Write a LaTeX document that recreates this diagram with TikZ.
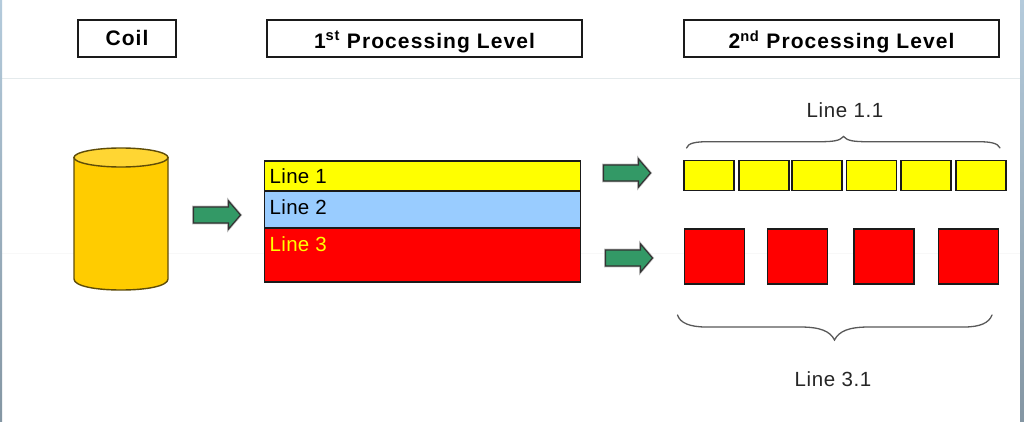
\documentclass[tikz,border=0pt]{standalone}
\usepackage{fontspec}
\setmainfont{Liberation Sans}
\definecolor{arrowgreen}{HTML}{339966}
\definecolor{coilgold}{HTML}{FFCC00}
\definecolor{coiltop}{HTML}{FFD633}
\definecolor{lineblue}{HTML}{99CCFF}
\definecolor{lineyellow}{HTML}{FFFF00}
\definecolor{linered}{HTML}{FF0000}
\definecolor{rulegrey}{HTML}{E4EAEC}
\definecolor{faintgrey}{HTML}{F8F8F8}
\definecolor{edgetop}{HTML}{B4CBDC}
\definecolor{edgebot}{HTML}{8496A3}
\definecolor{strokedark}{HTML}{1A1A1A}
\definecolor{coilline}{HTML}{5E4C08}
\tikzset{
  x=1pt,y=-1pt,
  outlined/.style={draw=strokedark,line width=1.6pt,inner sep=0pt,outer sep=0pt},
  headbox/.style={outlined,fill=white,font=\fontsize{21}{24}\selectfont\bfseries\addfontfeature{LetterSpace=5.2}},
  blockyellow/.style={outlined,fill=lineyellow,minimum height=30pt},
  blockred/.style={outlined,fill=linered,minimum width=60pt,minimum height=54.5pt},
  linetext/.style={anchor=west,inner sep=0pt,font=\fontsize{20.5}{24}\selectfont\addfontfeature{LetterSpace=1.5}},
  bracetext/.style={inner sep=0pt,text=black!85,font=\fontsize{20.5}{24}\selectfont\addfontfeature{LetterSpace=3}},
  fatarrow/.style={draw=black!80,line width=1.2pt,fill=arrowgreen,line join=miter,
    preaction={draw=black!25,line width=2.6pt}},
  bracecurve/.style={draw=black!65,line width=1.3pt,line cap=round},
  coilstroke/.style={draw=coilline,line width=1.4pt}
}
\newcommand{\greenarrow}[2]{% left x, centre y
  \path[fatarrow] (#1,#2-8) -- (#1+35,#2-8) -- (#1+35,#2-14) -- (#1+47,#2) -- (#1+35,#2+14) -- (#1+35,#2+8) -- (#1,#2+8) -- cycle;}
\begin{document}
\begin{tikzpicture}
\useasboundingbox (0,0) rectangle (1024,422);
\fill[white] (0,0) rectangle (1024,422);
\fill[rulegrey] (0,78) rectangle (1024,79);
\fill[faintgrey] (0,253) rectangle (1024,254);
\shade[top color=edgetop,bottom color=edgebot] (0,0) rectangle (2,422);
\shade[top color=edgetop,bottom color=edgebot] (1020,0) rectangle (1024,422);

% headers
\node[headbox,minimum width=97.5pt,minimum height=36.5pt] (coilhead) at (127,38.5) {\raisebox{1pt}{Coil}};
\node[headbox,minimum width=314.5pt,minimum height=36.5pt] (firsthead) at (424.5,38.5) {\raisebox{-1pt}[\height][0pt]{1\textsuperscript{st} Processing Level}};
\node[headbox,minimum width=314.5pt,minimum height=36.5pt] (secondhead) at (841.5,38.5) {\raisebox{-1pt}[\height][0pt]{2\textsuperscript{nd} Processing Level}};

% coil
\path[coilstroke,fill=coilgold] (74,157.5) -- (74,279) .. controls (74,286) and (95,290) .. (121,290) .. controls (147,290) and (168,286) .. (168,279) -- (168,157.5) -- cycle;
\path[coilstroke,fill=coiltop] (121,157.5) ellipse [x radius=47,y radius=9.5];

\greenarrow{193.5}{215}
\greenarrow{603.5}{173}
\greenarrow{605.5}{258}

% line stack
\node[outlined,fill=lineyellow,minimum width=316pt,minimum height=30.5pt] (lineone) at (422.5,176) {};
\node[outlined,fill=lineblue,minimum width=316pt,minimum height=37pt] (linetwo) at (422.5,209.5) {};
\node[outlined,fill=linered,minimum width=316pt,minimum height=54pt] (linethree) at (422.5,255) {};
\node[linetext] (lineonetext) at (269.5,176.5) {Line 1};
\node[linetext] (linetwotext) at (269.5,207) {Line 2};
\node[linetext,text=lineyellow] (linethreetext) at (269.5,244) {Line 3};

% yellow blocks
\node[blockyellow,minimum width=50pt] (ya) at (709.2,175.5) {};
\node[blockyellow,minimum width=50pt] (yb) at (763.7,175.5) {};
\node[blockyellow,minimum width=50pt] (yc) at (817,175.5) {};
\node[blockyellow,minimum width=50pt] (yd) at (871.5,175.5) {};
\node[blockyellow,minimum width=50pt] (ye) at (926,175.5) {};
\node[blockyellow,minimum width=50pt] (yf) at (981,175.5) {};

% red blocks
\node[blockred] (ra) at (714.5,256.5) {};
\node[blockred] (rb) at (797.5,256.5) {};
\node[blockred] (rc) at (884,256.5) {};
\node[blockred] (rd) at (968.5,256.5) {};

% braces
\path[bracecurve] (686.5,148) .. controls (688,143) and (696,141.7) .. (708,141.7) -- (820,141.7) .. controls (832,141.7) and (840,141) .. (843.5,136.5) .. controls (847,141) and (855,141.7) .. (867,141.7) -- (978,141.7) .. controls (990,141.7) and (998,143) .. (1000,148);
\path[bracecurve] (677.5,315) .. controls (680,323) and (690,327) .. (706,327) -- (800,327) .. controls (820,327) and (830,331) .. (834.5,340) .. controls (839,331) and (849,327) .. (869,327) -- (964,327) .. controls (980,327) and (989,323) .. (992,315);

\node[bracetext] (lineoneone) at (845,110) {Line 1.1};
\node[bracetext] (linethreeone) at (833,379) {Line 3.1};
\end{tikzpicture}
\end{document}
